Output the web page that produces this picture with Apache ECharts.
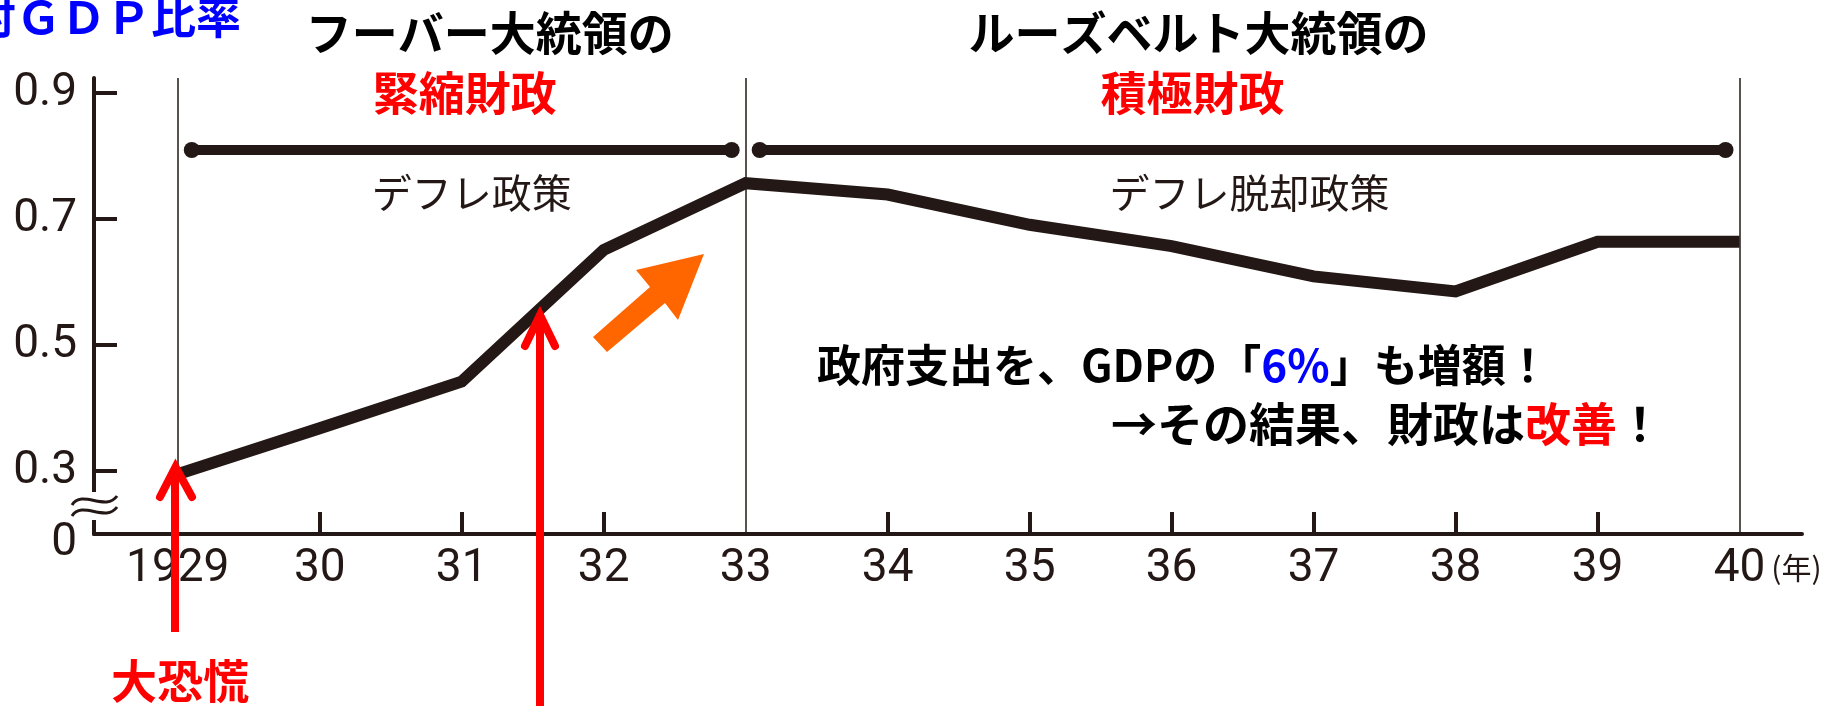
<!DOCTYPE html>
<html><head><meta charset="utf-8">
<script src="https://cdn.jsdelivr.net/npm/echarts@6/dist/echarts.min.js"></script>
<style>html,body{margin:0;padding:0;background:#fff}#c{width:1845px;height:706px}</style>
</head><body><div id="c"></div>
<script>
// ---- data ----
const years = [1929, 1930, 1931, 1932, 1933, 1934, 1935, 1936, 1937, 1938, 1939, 1940];
const ratio = [0.295, 0.368, 0.442, 0.651, 0.757, 0.739, 0.691, 0.657, 0.609, 0.585, 0.664, 0.664];
const xLabelTexts = ['1929', '30', '31', '32', '33', '34', '35', '36', '37', '38', '39', '40'];
const tickYears = [1930, 1931, 1932, 1934, 1935, 1936, 1937, 1938, 1939];
const boundaryYears = [1929, 1933, 1940];
const yTickValues = [0.3, 0.5, 0.7, 0.9];
const yLabelValues = [0.2, 0.3, 0.5, 0.7, 0.9];
const yLabelTexts = ['0', '0.3', '0.5', '0.7', '0.9'];
const periodStart = [1929, 1933];
const periodEnd = [1933, 1940];
const periodPolicy = ['デフレ政策', 'デフレ脱却政策'];
const presidents = ['フーバー大統領の', 'ルーズベルト大統領の'];
const fiscal = ['緊縮財政', '積極財政'];
const yAxisTitle = '対ＧＤＰ比率';
const xUnit = '(年)';
const noteLine1 = '政府支出を、GDPの「{b|6%}」も増額！';
const noteLine2 = '→その結果、財政は{r|改善}！';
const crashLabel = '大恐慌';

// ---- styles / layout ----
const INK = '#231815';
const JP = '"Noto Sans CJK JP", "Noto Sans CJK SC", sans-serif';
const NUM = 'Roboto, "Liberation Sans", sans-serif';
const Y_MIN = 0.2, Y_MAX = 0.924;
const presShift = [28, -44];
const fiscalShift = [3, -50];
const policyShift = [10, 7];

const chart = echarts.init(document.getElementById('c'));

function txt(x, y, text, font, fill, align, extra) {
  return {
    type: 'text', x: x, y: y, z: 100, silent: true,
    style: Object.assign({
      text: text, font: font, fill: fill,
      align: align || 'center', verticalAlign: 'middle',
      textAlign: align || 'center', textVerticalAlign: 'middle'
    }, extra || {})
  };
}

const option = {
  animation: false,
  backgroundColor: '#fff',
  grid: { left: 94, right: 43, top: 78, bottom: 172 },
  xAxis: {
    type: 'value', min: 1928.41, max: 1940.44,
    name: xUnit, nameLocation: 'end', nameGap: -39,
    nameTextStyle: { fontFamily: JP, fontSize: 30, color: INK, align: 'left', verticalAlign: 'top', padding: [19, 0, 0, 0] },
    axisLine: { show: true, lineStyle: { color: INK, width: 4 } },
    axisTick: { show: true, inside: true, length: 22, customValues: tickYears, lineStyle: { color: INK, width: 4 } },
    axisLabel: {
      customValues: years, margin: 12, fontFamily: NUM, fontSize: 46, lineHeight: 46, color: INK,
      formatter: v => xLabelTexts[years.indexOf(Math.round(v))]
    },
    splitLine: { show: false }
  },
  yAxis: {
    type: 'value', min: Y_MIN, max: Y_MAX,
    axisLine: { show: true, onZero: false, lineStyle: { color: INK, width: 4 } },
    axisTick: { show: true, inside: true, length: 23, customValues: yTickValues, lineStyle: { color: INK, width: 4 } },
    axisLabel: {
      customValues: yLabelValues, margin: 17, fontFamily: NUM, fontSize: 46, color: INK,
      formatter: v => {
        const i = yLabelValues.findIndex(t => Math.abs(t - v) < 1e-6);
        return i === 0 ? '{z|' + yLabelTexts[i] + '}' : yLabelTexts[i];
      },
      rich: { z: { fontFamily: NUM, fontSize: 46, color: INK, padding: [18, 0, 0, 0] } }
    },
    splitLine: { show: false }
  },
  series: [
    {
      type: 'line', data: years.map((y, i) => [y, ratio[i]]),
      symbol: 'none', z: 5, silent: true,
      lineStyle: { color: INK, width: 12, join: 'miter', cap: 'butt' },
      markLine: {
        silent: true, symbol: ['none', 'none'], label: { show: false },
        lineStyle: { color: INK, width: 1.5, type: 'solid' },
        emphasis: { disabled: true },
        data: boundaryYears.map(v => ({ xAxis: v }))
      }
    },
    {
      type: 'custom', silent: true, z: 6,
      data: periodStart.map((s, i) => [s, periodEnd[i]]),
      encode: { x: [0, 1] },
      renderItem: function (params, api) {
        const i = params.dataIndex;
        const p0 = api.coord([api.value(0), Y_MAX]);
        const p1 = api.coord([api.value(1), Y_MAX]);
        const top = p0[1];
        const by = top + 72;
        const x0 = p0[0] + 14, x1 = p1[0] - 14;
        const cx = (p0[0] + p1[0]) / 2;
        const mk = (x, y, text, font, fill) => ({
          type: 'text', x: x, y: y,
          style: { text: text, font: font, fill: fill, align: 'center', verticalAlign: 'middle', textAlign: 'center', textVerticalAlign: 'middle' }
        });
        return {
          type: 'group', children: [
            { type: 'line', shape: { x1: x0, y1: by, x2: x1, y2: by }, style: { stroke: INK, lineWidth: 10 } },
            { type: 'circle', shape: { cx: x0, cy: by, r: 8 }, style: { fill: INK } },
            { type: 'circle', shape: { cx: x1, cy: by, r: 8 }, style: { fill: INK } },
            mk(cx + policyShift[i], by + 43, periodPolicy[i], '40px ' + JP, INK),
            mk(cx + fiscalShift[i], top + 15, fiscal[i], 'bold 46px ' + JP, '#ff0000'),
            mk(cx + presShift[i], top - 45, presidents[i], 'bold 46px ' + JP, '#000000')
          ]
        };
      }
    }
  ],
  graphic: [
    txt(241, 17, yAxisTitle, 'bold 45px ' + JP, '#0000ff', 'right'),
    // axis break mark
    { type: 'rect', z: 99, silent: true, shape: { x: 88, y: 492, width: 13, height: 28 }, style: { fill: '#fff' } },
    { type: 'bezierCurve', z: 100, silent: true, shape: { x1: 72, y1: 505, cpx1: 82, cpy1: 489, cpx2: 106, cpy2: 512, x2: 117, y2: 496 }, style: { stroke: INK, lineWidth: 3, fill: null } },
    { type: 'bezierCurve', z: 100, silent: true, shape: { x1: 72, y1: 516, cpx1: 82, cpy1: 500, cpx2: 106, cpy2: 523, x2: 117, y2: 507 }, style: { stroke: INK, lineWidth: 3, fill: null } },
    // red arrows
    { type: 'line', z: 100, silent: true, shape: { x1: 175, y1: 632, x2: 175, y2: 470 }, style: { stroke: '#ff0000', lineWidth: 8 } },
    { type: 'polyline', z: 100, silent: true, shape: { points: [[160, 497], [175.5, 467], [192, 497]] }, style: { stroke: '#ff0000', lineWidth: 8, lineCap: 'round', lineJoin: 'miter', fill: null } },
    { type: 'line', z: 100, silent: true, shape: { x1: 540, y1: 706, x2: 540, y2: 318 }, style: { stroke: '#ff0000', lineWidth: 8 } },
    { type: 'polyline', z: 100, silent: true, shape: { points: [[525, 346], [540, 315], [555, 346]] }, style: { stroke: '#ff0000', lineWidth: 8, lineCap: 'round', lineJoin: 'miter', fill: null } },
    txt(180, 681, crashLabel, 'bold 46px ' + JP, '#ff0000'),
    // orange arrow
    { type: 'polygon', z: 100, silent: true, shape: { points: [[593, 337], [650, 287], [636, 270], [704, 254], [678, 320], [665, 303], [607, 352]] }, style: { fill: '#ff6600' } },
    // note
    txt(817, 365, noteLine1, 'bold 44px ' + JP, '#000000', 'left', { rich: { b: { font: 'bold 44px ' + JP, fill: '#0000ff' } } }),
    txt(1387, 424, noteLine2, 'bold 46px ' + JP, '#000000', 'center', { rich: { r: { font: 'bold 46px ' + JP, fill: '#ff0000' } } })
  ]
};
chart.setOption(option);
</script>
</body></html>
